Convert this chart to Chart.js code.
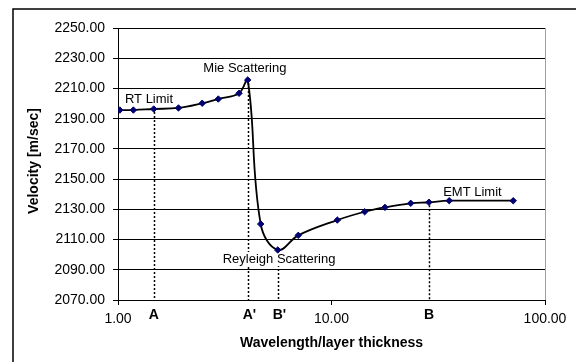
<!DOCTYPE html>
<html lang="en">
<head>
    <meta charset="UTF-8">
    <title>Velocity vs wavelength</title>
    <style>
        html, body { margin: 0; padding: 0; background: #fff; }
        #wrap { width: 576px; height: 362px; }
    </style>
</head>
<body>
<div id="wrap">
    <!-- Canvas for the velocity chart -->
    <canvas id="velChart" width="576" height="362"></canvas>
</div>

<script src="https://cdn.jsdelivr.net/npm/chart.js"></script>

<script>
    // Wavelength / layer thickness ratio and measured velocity
    const ratio = [1.02, 1.18, 1.47, 1.92, 2.48, 2.95, 3.69, 4.05, 4.66, 5.6, 6.99, 10.65, 14.3, 17.8, 23.5, 28.6, 35.6, 71.0];
    const velocity = [2195.7, 2195.7, 2196.4, 2197.1, 2200.2, 2203.0, 2206.8, 2215.6, 2120.3, 2103.1, 2112.8, 2122.9, 2128.4, 2131.3, 2134.0, 2134.7, 2135.7, 2135.7];

    // Tick values for both axes
    const xTicks = [1, 10, 100];
    const yTicks = [2070, 2090, 2110, 2130, 2150, 2170, 2190, 2210, 2230, 2250];

    // Regime labels and where they sit (data units)
    const noteText = ['RT Limit', 'Mie Scattering', 'Reyleigh Scattering', 'EMT Limit'];
    const noteX = [1.397, 3.93, 5.68, 45.7];
    const noteY = [2203.0, 2223.5, 2097.1, 2141.2];

    // Dotted drop lines: which point they hang from and their letter
    const dropIndex = [2, 7, 9, 15];
    const dropLetter = ['A', "A'", "B'", 'B'];

    Chart.defaults.font.family = "'Liberation Sans', Arial, sans-serif";
    Chart.defaults.color = '#000';

    // Draws the frame, the drop lines, the regime labels and the axis titles
    const extras = {
        id: 'extras',
        beforeDraw(chart) {
            const c = chart.ctx;
            c.save();
            c.fillStyle = '#fff';
            c.fillRect(0, 0, chart.width, chart.height);
            c.strokeStyle = '#000';
            c.lineWidth = 1.5;
            c.strokeRect(13, 9, 700, 500);
            c.restore();
        },
        beforeDatasetsDraw(chart) {
            const c = chart.ctx;
            const xs = chart.scales.x, ys = chart.scales.y;
            const area = chart.chartArea;
            c.save();

            // plot area right edge
            c.strokeStyle = '#a0a0a0';
            c.lineWidth = 1;
            c.beginPath();
            c.moveTo(area.right + 0.5, area.top);
            c.lineTo(area.right + 0.5, area.bottom);
            c.stroke();

            // dotted drop lines
            c.strokeStyle = '#000';
            c.lineWidth = 1.5;
            c.setLineDash([2, 2]);
            dropIndex.forEach(i => {
                const px = Math.round(xs.getPixelForValue(ratio[i])) + 0.5;
                c.beginPath();
                c.moveTo(px, ys.getPixelForValue(velocity[i]) + 3);
                c.lineTo(px, area.bottom);
                c.stroke();
            });
            c.setLineDash([]);

            // regime labels on white boxes
            c.font = "13px 'Liberation Sans', Arial, sans-serif";
            c.textAlign = 'center';
            c.textBaseline = 'middle';
            noteText.forEach((t, i) => {
                const px = xs.getPixelForValue(noteX[i]);
                const py = ys.getPixelForValue(noteY[i]);
                const w = c.measureText(t).width;
                c.fillStyle = '#fff';
                c.fillRect(px - w / 2 - 2, py - 7, w + 4, 14);
                c.fillStyle = '#000';
                c.fillText(t, px, py);
            });
            c.restore();
        },
        afterDatasetsDraw(chart) {
            const c = chart.ctx;
            const xs = chart.scales.x;
            const area = chart.chartArea;
            c.save();
            c.fillStyle = '#000';
            c.textBaseline = 'middle';

            // letters under the drop lines
            c.font = "bold 14px 'Liberation Sans', Arial, sans-serif";
            c.textAlign = 'left';
            const aw = c.measureText('A').width;
            dropIndex.forEach((idx, i) => {
                const px = xs.getPixelForValue(ratio[idx]);
                c.fillText(dropLetter[i], px - aw / 2, area.bottom + 15);
            });

            // axis titles
            c.textAlign = 'center';
            c.fillText('Wavelength/layer thickness', (area.left + area.right) / 2, 343);
            c.translate(34, 161);
            c.rotate(-Math.PI / 2);
            c.fillText('Velocity [m/sec]', 0, 0);
            c.restore();
        }
    };

    const velChart = new Chart(document.getElementById('velChart'), {
        type: 'line',
        data: {
            datasets: [{
                label: 'Velocity',
                data: ratio.map((r, i) => ({ x: r, y: velocity[i] })),
                borderColor: '#000',
                borderWidth: 1.8,
                tension: 0.4,
                pointStyle: 'rectRot',
                pointRadius: 3.2,
                pointBackgroundColor: '#000070',
                pointBorderColor: '#000070',
                pointBorderWidth: 1,
                fill: false
            }]
        },
        options: {
            responsive: false,
            animation: false,
            layout: { padding: { left: 0, top: 28, right: 31, bottom: 0 } },
            plugins: {
                legend: { display: false },
                tooltip: { enabled: false }
            },
            scales: {
                x: {
                    type: 'logarithmic',
                    min: 1,
                    max: 100,
                    afterBuildTicks: s => { s.ticks = xTicks.map(v => ({ value: v })); },
                    afterFit: s => { s.height = 62; },
                    ticks: {
                        callback: v => Number(v).toFixed(2),
                        font: { size: 14 },
                        padding: 6,
                        maxRotation: 0
                    },
                    grid: {
                        drawOnChartArea: false,
                        tickLength: 5,
                        color: '#000'
                    },
                    border: { display: true, color: '#000', width: 1 }
                },
                y: {
                    min: 2070,
                    max: 2250,
                    afterBuildTicks: s => { s.ticks = yTicks.map(v => ({ value: v })); },
                    afterFit: s => { s.width = 118; },
                    ticks: {
                        callback: v => Number(v).toFixed(2),
                        font: { size: 14 },
                        padding: 8
                    },
                    grid: {
                        color: '#000',
                        lineWidth: 1,
                        tickLength: 5
                    },
                    border: { display: true, color: '#000', width: 1 }
                }
            }
        },
        plugins: [extras]
    });
</script>
</body>
</html>
